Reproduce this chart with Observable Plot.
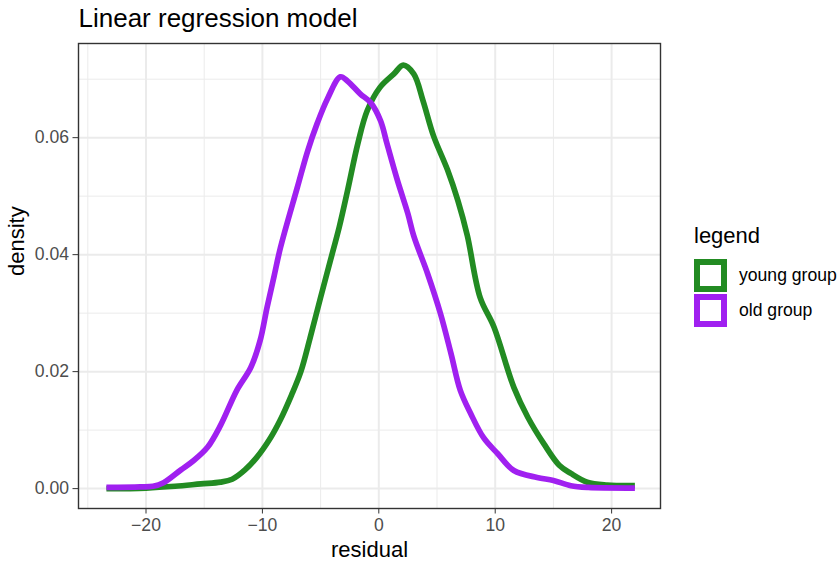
<!DOCTYPE html>
<html>
<head>
<meta charset="utf-8">
<script src="https://cdn.jsdelivr.net/npm/d3@7"></script>
<script src="https://cdn.jsdelivr.net/npm/@observablehq/plot@0.6"></script>
<style>
  html, body { margin: 0; padding: 0; background: #fff; }
  #wrap { position: relative; width: 840px; height: 562px; font-family: "Liberation Sans", Arial, Helvetica, sans-serif; }
  #wrap svg { position: absolute; left: 0; top: 0; }
  g[aria-label="x-axis tick label"], g[aria-label="y-axis tick label"] { fill: #4d4d4d; }
  g[aria-label="x-axis"] text, g[aria-label="y-axis"] text { fill: #4d4d4d; }
  .legend { position: absolute; left: 694px; top: 225px; color: #000; }
  .legend .ttl { font-size: 22px; line-height: 22px; height: 33px; }
  .legend .row { display: flex; align-items: center; height: 35px; }
  .legend .key { box-sizing: border-box; width: 33px; height: 33px; border: 6px solid; background: #fff; }
  .legend .lab { margin-left: 12px; font-size: 17.6px; }
</style>
</head>
<body>
<div id="wrap"></div>
<script>
// Density curve of residuals, young group
const youngX = [-23.4, -20.0, -17.5, -15.3, -13.6, -12.6, -11.5, -10.5, -9.3, -8.5, -7.5, -6.7, -5.9, -5.0, -4.2, -3.4, -2.7, -1.8, -1.0, 0.1, 1.3, 2.1, 3.0, 3.8, 4.7, 5.9, 6.8, 7.6, 8.7, 9.9, 11.6, 12.8, 14.2, 15.5, 16.5, 17.9, 19.6, 22.0];
const youngY = [0.0000, 0.0001, 0.0004, 0.0008, 0.0011, 0.0016, 0.0032, 0.0053, 0.0087, 0.0116, 0.0160, 0.0200, 0.0258, 0.0327, 0.0387, 0.0447, 0.0508, 0.0590, 0.0646, 0.0686, 0.0709, 0.0724, 0.0709, 0.0663, 0.0603, 0.0545, 0.0492, 0.0433, 0.0327, 0.0276, 0.0173, 0.0122, 0.0076, 0.0040, 0.0026, 0.0011, 0.0006, 0.0005];
// Density curve of residuals, old group
const oldX = [-23.4, -20.5, -19.4, -18.5, -17.0, -15.9, -14.7, -13.6, -12.2, -11.0, -10.2, -9.6, -9.0, -8.45, -7.0, -6.1, -5.3, -4.4, -3.3, -2.7, -1.6, -0.7, 0.15, 0.7, 1.6, 2.5, 3.0, 4.2, 5.3, 6.2, 7.0, 7.9, 9.0, 10.2, 11.6, 13.6, 15.0, 16.5, 18.0, 22.0];
const oldY = [0.0002, 0.0003, 0.0004, 0.0010, 0.0032, 0.0048, 0.0071, 0.0108, 0.0168, 0.0207, 0.0253, 0.0310, 0.0363, 0.0412, 0.0515, 0.0578, 0.0624, 0.0667, 0.0704, 0.0697, 0.0675, 0.0660, 0.0629, 0.0590, 0.0527, 0.0470, 0.0432, 0.0367, 0.0299, 0.0231, 0.0168, 0.0128, 0.0087, 0.0060, 0.0031, 0.0019, 0.0014, 0.0005, 0.0002, 0.0001];

const groups = ["young group", "old group"];
const colors = ["#228B22", "#A020F0"];

const xMajor = [-20, -10, 0, 10, 20];
const xMinor = [-25, -15, -5, 5, 15];
const yMajor = [0, 0.02, 0.04, 0.06];
const yMinor = [0.01, 0.03, 0.05, 0.07];

const titleText = "Linear regression model";
const xTitle = "residual";
const yTitle = "density";
const legendTitle = "legend";

const young = youngX.map((x, i) => ({x, y: youngY[i], g: groups[0]}));
const old = oldX.map((x, i) => ({x, y: oldY[i], g: groups[1]}));

const chart = Plot.plot({
  width: 840,
  height: 562,
  marginLeft: 78,
  marginRight: 180,
  marginTop: 43,
  marginBottom: 54,
  style: { fontFamily: '"Liberation Sans", Arial, Helvetica, sans-serif', fontSize: "17.6px", color: "#333333", background: "#ffffff", overflow: "visible" },
  x: { domain: [-25.8, 24.2], ticks: xMajor, tickSize: 5.5, tickPadding: 4, tickFormat: d => d3.format("")(d).replace("-", "\u2212"), label: null },
  y: { domain: [-0.0034, 0.0761], ticks: yMajor, tickSize: 5.5, tickPadding: 4, tickFormat: d3.format(".2f"), label: null },
  color: { domain: groups, range: colors },
  marks: [
    Plot.ruleX(xMinor, { stroke: "#ebebeb", strokeWidth: 1 }),
    Plot.ruleY(yMinor, { stroke: "#ebebeb", strokeWidth: 1 }),
    Plot.ruleX(xMajor, { stroke: "#ebebeb", strokeWidth: 2 }),
    Plot.ruleY(yMajor, { stroke: "#ebebeb", strokeWidth: 2 }),
    Plot.line(young, { x: "x", y: "y", stroke: "g", strokeWidth: 5.7, curve: "catmull-rom", strokeLinecap: "butt", strokeLinejoin: "round" }),
    Plot.line(old, { x: "x", y: "y", stroke: "g", strokeWidth: 5.7, curve: "catmull-rom", strokeLinecap: "butt", strokeLinejoin: "round" }),
    Plot.frame({ stroke: "#333333", strokeWidth: 1.4 }),
    Plot.text([titleText], { text: d => d, frameAnchor: "top-left", textAnchor: "start", lineAnchor: "bottom", dy: -17, fontSize: 26, fill: "#000" }),
    Plot.text([xTitle], { text: d => d, frameAnchor: "bottom", lineAnchor: "bottom", dy: 48, fontSize: 22, fill: "#000" }),
    Plot.text([yTitle], { text: d => d, frameAnchor: "left", lineAnchor: "bottom", rotate: -90, dx: -55, fontSize: 22, fill: "#000" })
  ]
});

const wrap = document.getElementById("wrap");
wrap.appendChild(chart);

const legend = document.createElement("div");
legend.className = "legend";
const lt = document.createElement("div");
lt.className = "ttl";
lt.textContent = legendTitle;
legend.appendChild(lt);
groups.forEach((g, i) => {
  const row = document.createElement("div");
  row.className = "row";
  const key = document.createElement("div");
  key.className = "key";
  key.style.borderColor = colors[i];
  const lab = document.createElement("div");
  lab.className = "lab";
  lab.textContent = g;
  row.appendChild(key);
  row.appendChild(lab);
  legend.appendChild(row);
});
wrap.appendChild(legend);
</script>
</body>
</html>
